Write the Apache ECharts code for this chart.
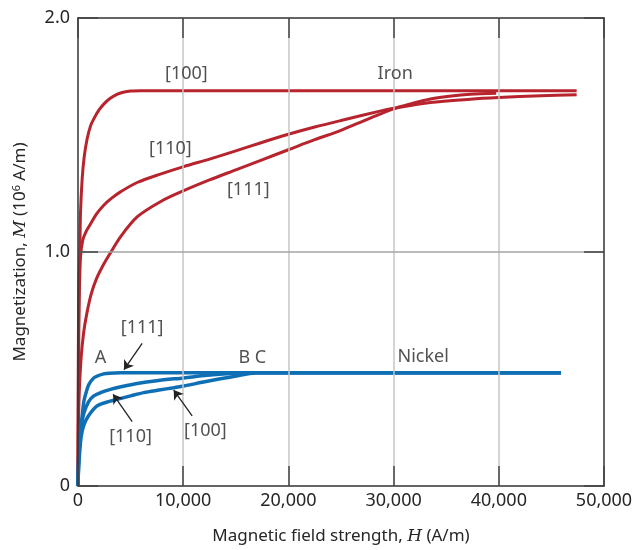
<!DOCTYPE html>
<html><head><meta charset="utf-8">
<script src="https://cdn.jsdelivr.net/npm/echarts@6/dist/echarts.min.js"></script>
<style>html,body{margin:0;padding:0;background:#fff}#c{width:644px;height:550px}</style>
</head><body><div id="c"></div>
<script>
// ---- Data (H in A/m, M in 10^6 A/m) ----
const ironH100 = [0, 30, 80, 170, 240, 400, 600, 870, 1200, 1500, 2000, 2450, 3000, 3700, 4300, 5000, 6000, 47400];
const ironM100 = [0, 0.55, 0.85, 1.0, 1.17, 1.315, 1.41, 1.484, 1.54, 1.569, 1.607, 1.632, 1.655, 1.674, 1.683, 1.688, 1.689, 1.689];

const ironH110 = [0, 50, 120, 240, 450, 800, 1190, 1800, 2450, 3200, 4040, 5620, 7830, 10050, 12580, 15000, 17330, 20000, 22500, 25000, 28700, 30000, 33500, 37300, 40000, 44000, 47400];
const ironM110 = [0, 0.5, 0.8, 0.98, 1.05, 1.09, 1.12, 1.165, 1.2, 1.23, 1.257, 1.297, 1.333, 1.365, 1.398, 1.432, 1.466, 1.503, 1.534, 1.562, 1.602, 1.614, 1.639, 1.653, 1.66, 1.668, 1.672];

const ironH111 = [0, 40, 120, 300, 550, 850, 1250, 1750, 2350, 3000, 4040, 5620, 7830, 10050, 12500, 15000, 17500, 20000, 22500, 25000, 27500, 30000, 31700, 33500, 35500, 37300, 39750];
const ironM111 = [0, 0.25, 0.4, 0.55, 0.66, 0.74, 0.82, 0.885, 0.94, 0.99, 1.065, 1.15, 1.215, 1.262, 1.308, 1.351, 1.394, 1.437, 1.48, 1.52, 1.567, 1.612, 1.634, 1.654, 1.667, 1.674, 1.678];

const niH111 = [0, 60, 150, 400, 550, 710, 1030, 1500, 1820, 2450, 3000, 4040, 6000, 45900];
const niM111 = [0, 0.12, 0.2, 0.3, 0.36, 0.39, 0.434, 0.462, 0.47, 0.479, 0.482, 0.484, 0.484, 0.484];

const niH110 = [0, 60, 150, 300, 550, 1000, 1500, 2200, 3090, 4200, 5620, 7500, 10050, 12300, 14500, 16000, 45900];
const niM110 = [0, 0.1, 0.17, 0.25, 0.31, 0.36, 0.385, 0.4, 0.413, 0.425, 0.438, 0.45, 0.462, 0.473, 0.481, 0.484, 0.484];

const niH100 = [0, 60, 150, 300, 550, 1000, 1820, 2700, 3720, 5000, 6250, 7700, 9100, 10050, 11800, 13530, 15300, 17000, 45900];
const niM100 = [0, 0.08, 0.14, 0.21, 0.26, 0.3, 0.342, 0.358, 0.37, 0.385, 0.399, 0.41, 0.42, 0.427, 0.443, 0.458, 0.472, 0.484, 0.484];

// Annotation labels (data coordinates)
const noteText = ['[100]', 'Iron', '[110]', '[111]', '[111]', 'A', 'B C', 'Nickel', '[110]', '[100]'];
const noteH = [10300, 30150, 8780, 16190, 6100, 2140, 16570, 32810, 4990, 12110];
const noteM = [1.763, 1.763, 1.442, 1.264, 0.674, 0.547, 0.547, 0.55, 0.208, 0.237];

// Arrows (from -> to, data coordinates)
const arrowFromH = [6100, 5150, 10850];
const arrowFromM = [0.61, 0.275, 0.30];
const arrowToH = [4370, 3340, 9100];
const arrowToM = [0.497, 0.392, 0.41];

// Tick labels / interior grid lines
const xTicks = ['0', '10,000', '20,000', '30,000', '40,000', '50,000'];
const xGrid = [10000, 20000, 30000, 40000];
const yGrid = [1.0];

// ---- Chart ----
const zip = (a, b) => a.map((v, i) => [v, b[i]]);
const RED = '#b7242d', BLUE = '#0e6fb4', TXT = '#262626';
const FONT = 'Noto Sans';

function lineSeries(h, m, color, w) {
  return { type: 'line', data: zip(h, m), showSymbol: false, smooth: 0.3,
    lineStyle: { color: color, width: w }, silent: true, animation: false, z: 3 };
}

const chart = echarts.init(document.getElementById('c'), null, { renderer: 'canvas' });
const axisCommon = {
  type: 'value', z: 5,
  axisLine: { show: true, onZero: false, lineStyle: { color: '#333', width: 1.5 } },
  axisTick: { show: true, inside: true, length: 20, lineStyle: { color: '#444', width: 1.5 } },
  splitLine: { show: false }
};
chart.setOption({
  animation: false,
  grid: { left: 78, right: 40, top: 18, bottom: 59, containLabel: false },
  xAxis: [
    Object.assign({}, axisCommon, {
      min: 0, max: 50000, interval: 10000, position: 'bottom',
      axisLabel: { color: TXT, fontFamily: FONT, fontSize: 18, margin: 6,
        formatter: v => xTicks[Math.round(v / 10000)] },
      name: 'Magnetic field strength, {i|H} (A/m)', nameLocation: 'middle', nameGap: 42,
      nameTextStyle: { color: TXT, fontFamily: FONT, fontSize: 17,
        rich: { i: { fontFamily: 'DejaVu Serif', fontStyle: 'italic', fontSize: 17, color: TXT } } }
    }),
    Object.assign({}, axisCommon, {
      min: 0, max: 50000, interval: 10000, position: 'top',
      axisLabel: { show: false }
    })
  ],
  yAxis: [
    Object.assign({}, axisCommon, {
      min: 0, max: 2, interval: 1, position: 'left',
      axisLabel: { color: TXT, fontFamily: FONT, fontSize: 18, margin: 8,
        formatter: v => v === 0 ? '0' : v.toFixed(1) },
      name: 'Magnetization, {i|M} (10{sup|6} A/m)', nameLocation: 'middle', nameGap: 48,
      nameTextStyle: { color: TXT, fontFamily: FONT, fontSize: 17,
        rich: { i: { fontFamily: 'DejaVu Serif', fontStyle: 'italic', fontSize: 17, color: TXT },
                sup: { fontFamily: FONT, fontSize: 11, color: TXT, verticalAlign: 'top', padding: [0, 0, 8, 0] } } }
    }),
    Object.assign({}, axisCommon, {
      min: 0, max: 2, interval: 1, position: 'right',
      axisLabel: { show: false }
    })
  ],
  series: [
    {
      type: 'line', data: [], silent: true, z: 1,
      markLine: {
        silent: true, symbol: 'none', animation: false, label: { show: false },
        data: xGrid.map(v => ({ xAxis: v, lineStyle: { color: '#c6c6c6', width: 1.5, type: 'solid' } }))
          .concat(yGrid.map(v => ({ yAxis: v, lineStyle: { color: '#a4a4a4', width: 1.5, type: 'solid' } })))
      }
    },
    lineSeries(ironH111, ironM111, RED, 3),
    lineSeries(ironH110, ironM110, RED, 3),
    lineSeries(ironH100, ironM100, RED, 3),
    lineSeries(niH100, niM100, BLUE, 3.5),
    lineSeries(niH110, niM110, BLUE, 3.5),
    lineSeries(niH111, niM111, BLUE, 3.5),
    {
      type: 'line', data: [], silent: true, z: 6,
      markLine: {
        silent: true, symbol: ['none', 'arrow'], symbolSize: 9, animation: false,
        lineStyle: { color: '#222', width: 1.3, type: 'solid' }, label: { show: false },
        data: arrowFromH.map((h, i) => [{ coord: [h, arrowFromM[i]] }, { coord: [arrowToH[i], arrowToM[i]] }])
      }
    },
    {
      type: 'scatter', silent: true, symbolSize: 0, z: 7,
      data: noteText.map((t, i) => [noteH[i], noteM[i], t]),
      label: { show: true, position: 'inside', formatter: p => p.data[2],
        color: TXT, fontFamily: FONT, fontSize: 18 }
    }
  ]
});
</script></body></html>
